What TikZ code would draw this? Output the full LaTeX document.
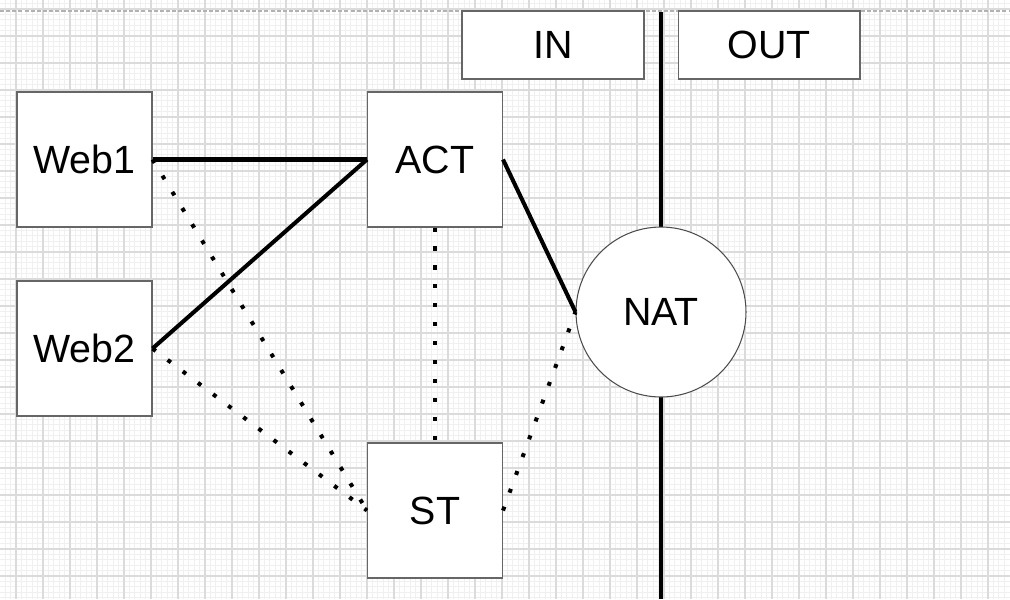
\documentclass[tikz,border=0pt]{standalone}
\usepackage{fontspec}
\setmainfont{Liberation Sans}
\usetikzlibrary{positioning}

\begin{document}
\begin{tikzpicture}[
    x=0.02cm, y=-0.02cm,
    box/.style={rectangle, draw=black!60, fill=white, line width=0.6pt,
                minimum width=2.7cm, minimum height=2.7cm, inner sep=0pt,
                font=\fontsize{22.4}{26}\selectfont},
    tag/.style={rectangle, draw=black!60, fill=white, line width=0.6pt,
                minimum width=3.64cm, minimum height=1.36cm, inner sep=0pt,
                font=\fontsize{22.4}{26}\selectfont},
    hub/.style={circle, draw=black!70, fill=white, line width=0.6pt,
                minimum size=3.4cm, inner sep=0pt, font=\fontsize{22.4}{26}\selectfont},
    minor/.style={draw=black!6, line width=0.4pt},
    major/.style={draw=black!14, line width=0.8pt},
    link/.style={line width=2.3pt},
    weak/.style={line width=2.3pt, dash pattern=on 2.3pt off 8.5pt},
    wall/.style={line width=2.3pt}
]
\useasboundingbox (0,0) rectangle (1010,599);

% Background grid
\fill[white] (0,0) rectangle (1010,599);
\foreach \k in {-2,...,183} \draw[minor] ({16+5.4*\k},0) -- ({16+5.4*\k},599);
\foreach \k in {-1,...,109} \draw[minor] (0,{9+5.4*\k}) -- (1010,{9+5.4*\k});
\foreach \k in {0,...,36} \draw[major] ({16+27*\k},0) -- ({16+27*\k},599);
\foreach \k in {0,...,21} \draw[major] (0,{9+27*\k}) -- (1010,{9+27*\k});
\draw[black!30, line width=0.6pt, dash pattern=on 2.3pt off 1.2pt] (0,11) -- (1010,11);

% Boundary between IN and OUT
\coordinate (wall top) at (661,12);
\coordinate (wall bot) at (661,599);
\draw[wall] (wall top) -- (wall bot);

% Header tags
\node[tag] (in) at (553,45) {IN};
\node[tag] (out) at (769,45) {OUT};

% Left column: web nodes
\node[box] (web1) at (84.5,159.5) {Web1};
\node[box] (web2) at (84.5,348.5) {Web2};

% Middle column
\node[box] (act) at (435,159.5) {ACT};
\node[box] (st) at (435,510.5) {ST};

% Boundary node
\node[hub] (nat) at (661,312) {NAT};

% Solid links
\draw[link] (web1.east) -- (act.west);
\draw[link] (web2.east) -- (act.west);
\draw[link] (act.east) -- (nat.west);

% Dotted links
\draw[weak] (act.south) -- (st.north);
\draw[weak] (web1.east) -- (st.west);
\draw[weak] (web2.east) -- (st.west);
\draw[weak] (st.east) -- (nat.west);

\end{tikzpicture}
\end{document}
